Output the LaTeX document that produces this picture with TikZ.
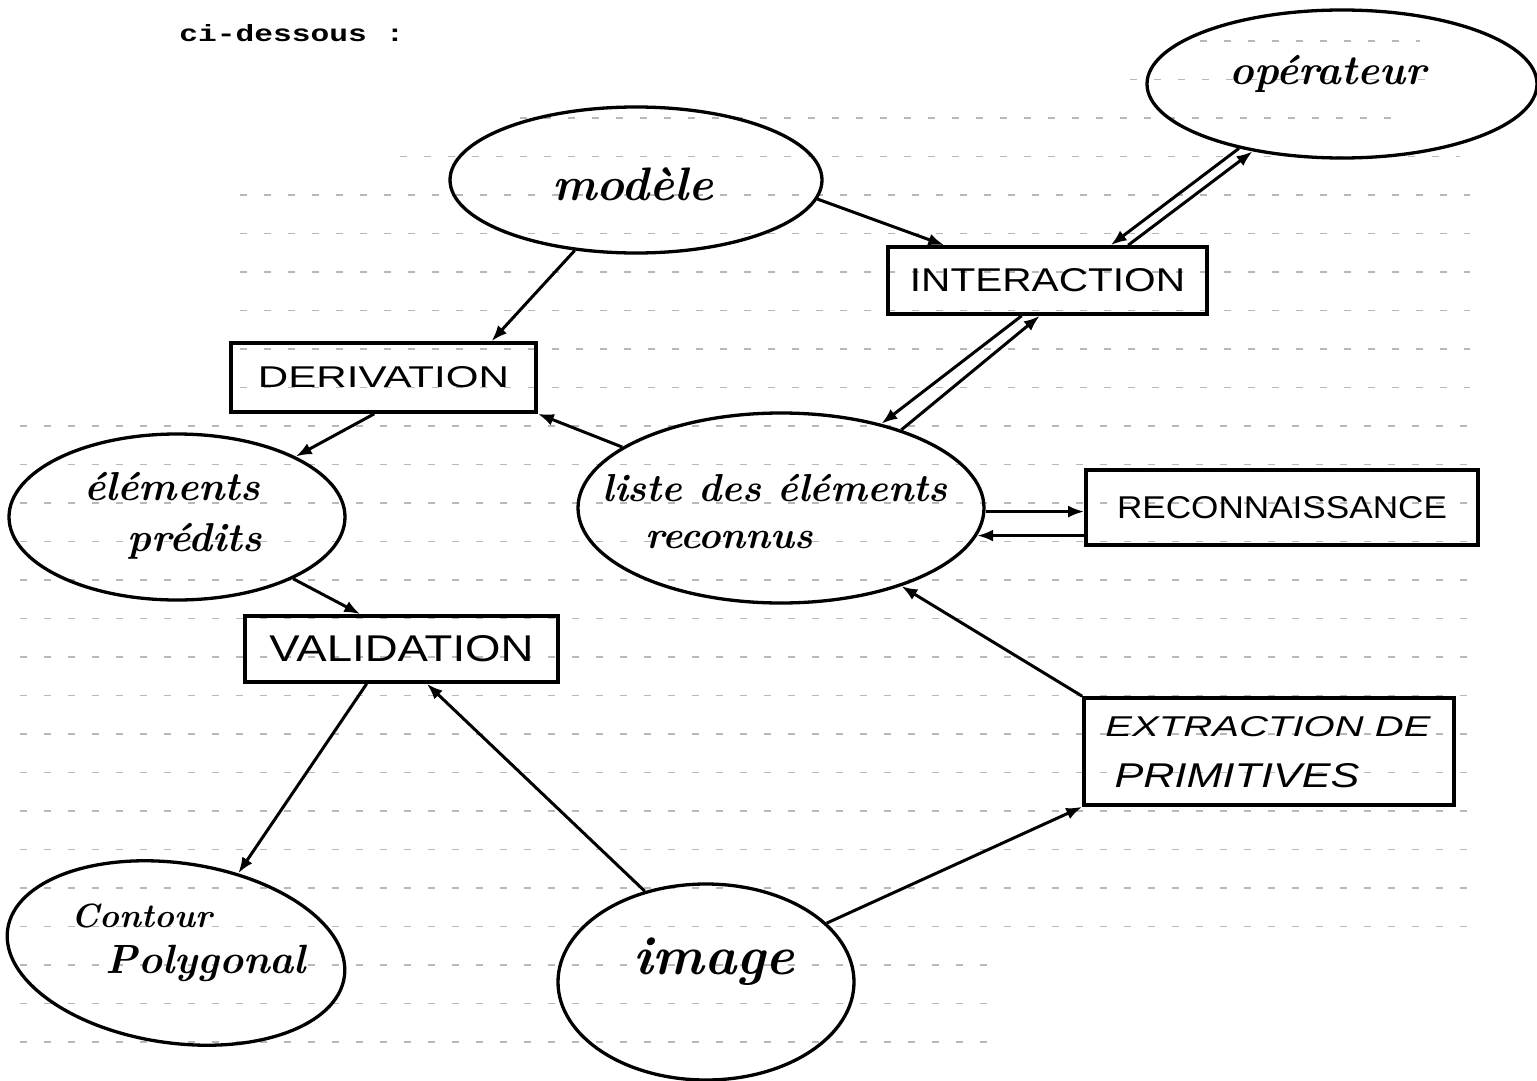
\documentclass[tikz,border=0pt]{standalone}
\usepackage{fontspec}
\newfontfamily\capsf{Liberation Sans}
\newfontfamily\monof{Liberation Mono}
\usetikzlibrary{shapes.geometric,arrows.meta,calc}
\newcommand{\curs}{\fontsize{40}{48}\selectfont\bfseries\itshape}
\begin{document}
\begin{tikzpicture}[x=1pt,y=-1pt,
  ell/.style={draw,ellipse,line width=3.3pt,inner sep=0pt},
  box/.style={draw,rectangle,line width=3.6pt,inner sep=0pt},
  arr/.style={line width=3pt,-{Latex[length=16pt,width=12pt]}},
  rule/.style={black!28,line width=1.2pt,dash pattern=on 7pt off 17pt},
  txt/.style={inner sep=0pt}]
\useasboundingbox (0,0) rectangle (1537,1081);
\fill[white] (0,0) rectangle (1537,1081);
% ruled paper lines
\foreach \k/\a/\b in {0/1200/1420,1/1130/1440,2/520/1400,3/400/1460,4/240/1470,5/240/1470,6/240/1470,7/240/1470,8/240/1470,9/240/1470,10/20/1470,11/20/1470,12/20/1470,13/20/1470,14/20/1470,15/20/1470,16/20/1470,17/20/1470,18/20/1470,19/20/1470,20/20/1470,21/20/1470,22/20/1470,23/20/1470,24/20/1000,25/20/1000,26/20/1000}
  \draw[rule] (\a,{41+38.5*\k}) -- (\b,{41+38.5*\k});
% header
\node[txt] (head) at (292,33) {\resizebox{225pt}{17pt}{\monof\bfseries ci-dessous :}};
% ellipses
\node[ell,minimum width=390pt,minimum height=148pt] (oper) at (1342,84) {};
\node[txt] (toper) at (1328,74) {\resizebox{197pt}{!}{\curs opérateur}};
\node[ell,minimum width=372pt,minimum height=146pt] (modele) at (636,180) {};
\node[txt] (tmodele) at (633,184) {\resizebox{161pt}{!}{\curs modèle}};
\node[ell,minimum width=336pt,minimum height=166pt] (elpred) at (177,517) {};
\node[txt] (telpred1) at (172,487) {\resizebox{176pt}{!}{\curs éléments}};
\node[txt] (telpred2) at (195,541) {\resizebox{134pt}{!}{\curs prédits}};
\node[ell,minimum width=406pt,minimum height=190pt] (liste) at (781,508) {};
\node[txt] (tliste1) at (775,488) {\resizebox{345pt}{!}{\curs liste des éléments}};
\node[txt] (tliste2) at (729,540) {\resizebox{168pt}{!}{\curs reconnus}};
\node[ell,minimum width=340pt,minimum height=180pt,rotate=-8] (contour) at (176,953) {};
\node[txt] (tcontour1) at (142,916) {\resizebox{140pt}{!}{\curs Contour}};
\node[txt] (tcontour2) at (206,963) {\resizebox{200pt}{!}{\curs Polygonal}};
\node[ell,minimum width=296pt,minimum height=196pt] (image) at (706,982) {};
\node[txt] (timage) at (714,962) {\resizebox{161pt}{!}{\curs image}};
% boxes
\node[box,minimum width=319pt,minimum height=67pt] (inter) at (1047.5,280.5) {\resizebox{275pt}{23pt}{\capsf INTERACTION}};
\node[box,minimum width=305pt,minimum height=69pt] (deriv) at (383.5,377.5) {\resizebox{251pt}{21pt}{\capsf DERIVATION}};
\node[box,minimum width=392pt,minimum height=75pt] (recon) at (1282,507.5) {\resizebox{330pt}{22pt}{\capsf RECONNAISSANCE}};
\node[box,minimum width=313pt,minimum height=66pt] (valid) at (401.5,649) {\resizebox{264pt}{26pt}{\capsf VALIDATION}};
\node[box,minimum width=370pt,minimum height=107pt] (extr) at (1269,751.5) {};
\node[txt] (textr1) at (1268,727) {\resizebox{325pt}{20pt}{\capsf\itshape EXTRACTION DE}};
\node[txt] (textr2) at (1237,776) {\resizebox{245pt}{24pt}{\capsf\itshape PRIMITIVES}};
% connectors
\draw[arr] (modele.-6) -- ($(inter.north west)!0.18!(inter.north east)$);
\draw[arr] (modele.229) -- ($(deriv.north west)!0.85!(deriv.north east)$);
\draw[arr] ($(deriv.south west)!0.47!(deriv.south east)$) -- (elpred.27);
\draw[arr] (liste.159) -- (deriv.south east);
\draw[arr] (oper.212) -- ($(inter.north west)!0.696!(inter.north east)$);
\draw[arr] ($(inter.north west)!0.75!(inter.north east)$) -- (oper.217);
\draw[arr] ($(inter.south west)!0.42!(inter.south east)$) -- (liste.40);
\draw[arr] (liste.33) -- ($(inter.south west)!0.476!(inter.south east)$);
\draw[arr] (liste.359) -- (liste.359 -| recon.west);
\draw[arr] (liste.352 -| recon.west) -- (liste.352);
\draw[arr] (elpred.-28) -- ($(valid.north west)!0.37!(valid.north east)$);
\draw[arr] ($(valid.south west)!0.39!(valid.south east)$) -- (contour.60);
\draw[arr] (image.124) -- ($(valid.south west)!0.58!(valid.south east)$);
\draw[arr] (image.26) -- (extr.south west);
\draw[arr] (extr.north west) -- (liste.327);
\end{tikzpicture}
\end{document}
